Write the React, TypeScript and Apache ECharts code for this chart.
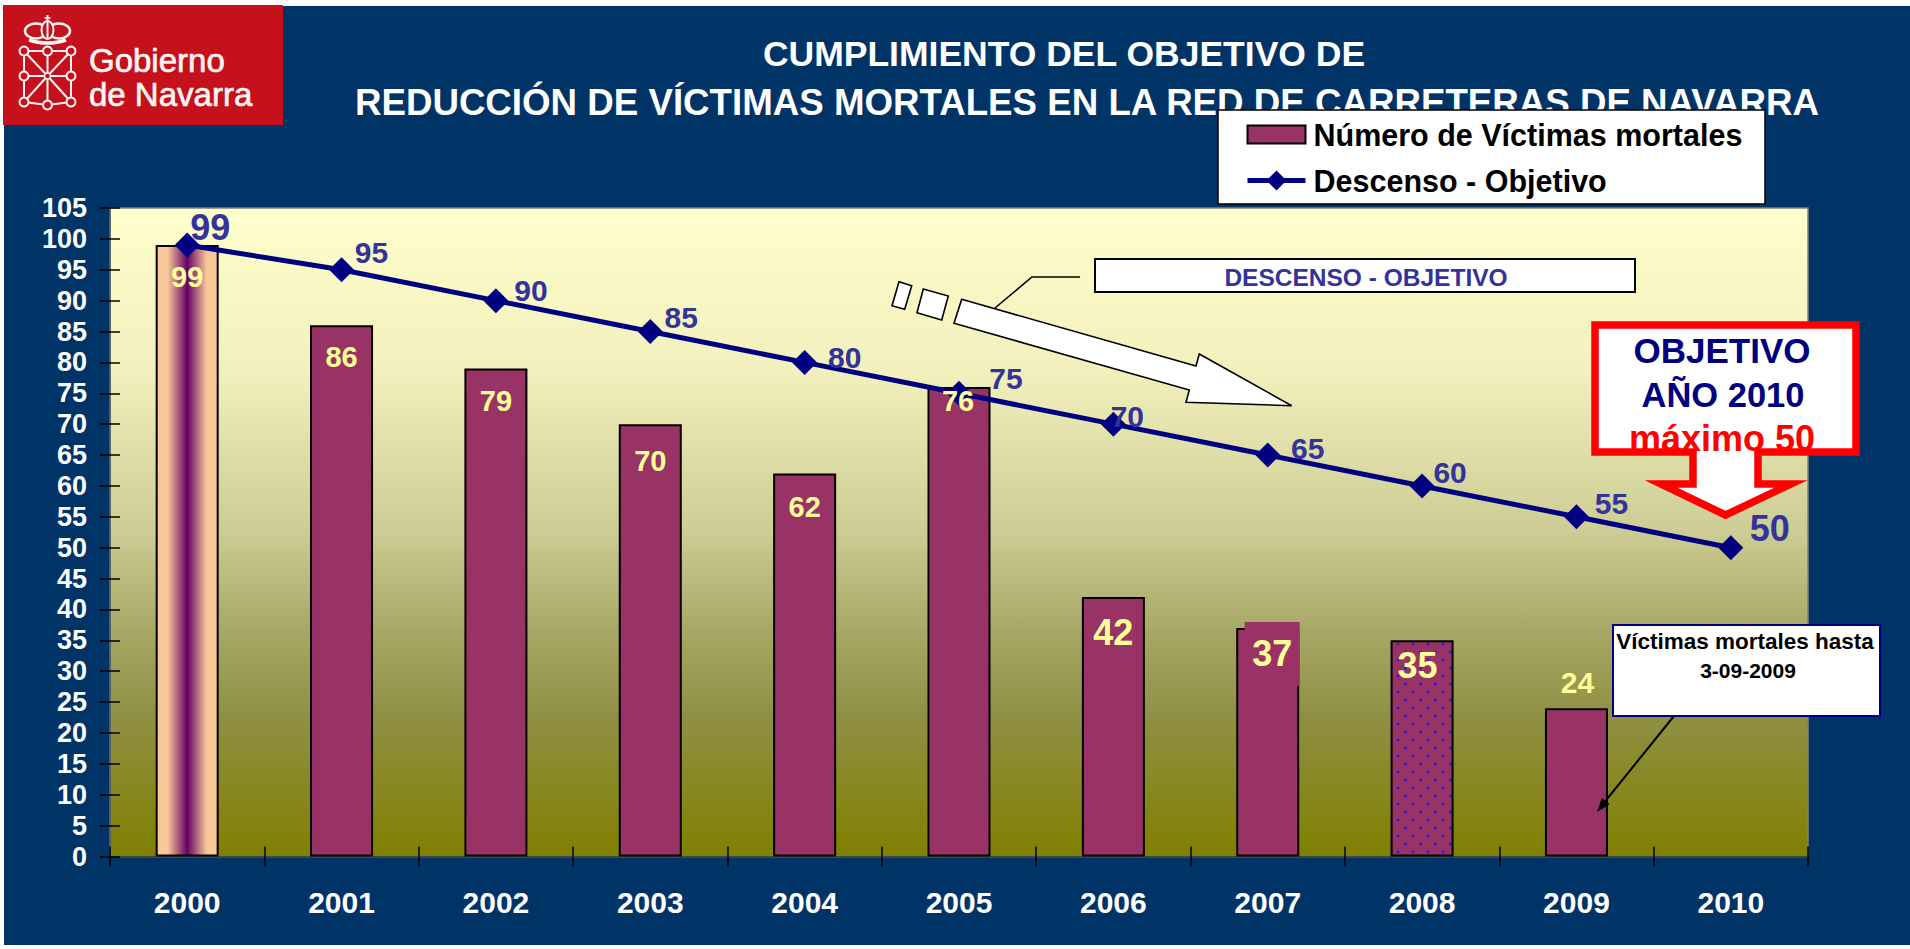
import React, { useEffect, useRef } from "react";
import * as echarts from "echarts";

const years = ["2000","2001","2002","2003","2004","2005","2006","2007","2008","2009","2010"];
const victims = [99,86,79,70,62,76,42,37,35,24,null];
const target = [99,95,90,85,80,75,70,65,60,55,50];
const yMin = 0, yMax = 105, yStep = 5;
const barName = "Número de Víctimas mortales";
const lineName = "Descenso - Objetivo";
const titleLines = ["CUMPLIMIENTO DEL OBJETIVO DE","REDUCCIÓN DE VÍCTIMAS MORTALES EN LA RED DE CARRETERAS DE NAVARRA"];

const barLabelLook = [
  {s:29,dx:0,dy:32},{s:29,dx:0,dy:32},{s:29,dx:0,dy:32},{s:29,dx:0,dy:37},{s:29,dx:0,dy:33},
  {s:29,dx:-1,dy:14},{s:36,dx:0,dy:35},{s:36,dx:4.5,dy:26},{s:36,dx:-4.5,dy:25},{s:30,dx:1,dy:-26},null,
];
const lineLabelLook = [
  {s:36,dx:23,dy:-18},{s:30,dx:30,dy:-17},{s:30,dx:35,dy:-10},{s:30,dx:31,dy:-14},{s:30,dx:40,dy:-5},
  {s:30,dx:47,dy:-15},{s:30,dx:14,dy:-8},{s:30,dx:40,dy:-7},{s:30,dx:28,dy:-13},{s:30,dx:35,dy:-13},{s:36,dx:39,dy:-19},
];

const FONT = '"Liberation Sans", Arial, sans-serif';
const NAVY = "#003366", MAROON = "#993366", DEEP = "#000080", BLUE = "#333399", YEL = "#FFFF99";

function dotTile() {
  const c = document.createElement("canvas");
  c.width = 15; c.height = 16;
  const g = c.getContext("2d")!;
  g.fillStyle = MAROON; g.fillRect(0,0,15,16);
  g.fillStyle = "#2020E8";
  g.beginPath(); g.arc(3,4,1.5,0,7); g.fill();
  g.beginPath(); g.arc(10.5,12,1.5,0,7); g.fill();
  return c;
}

function logo() {
  const W = "#FFF4F4", R = "#C4111B";
  const nodes = [[24,51],[47.5,51],[71,51],[24,76],[71,76],[24,102],[47.5,105],[71,102]];
  const link = (a:number[],b:number[]) => ({type:"line",shape:{x1:a[0],y1:a[1],x2:b[0],y2:b[1]},style:{stroke:W,lineWidth:2}});
  const c = [47.5,76];
  return [
    {type:"rect",shape:{x:3,y:5,width:280,height:120},style:{fill:R}},
    ...nodes.map(n=>link(n,c)),
    link(nodes[0],nodes[2]),link(nodes[5],nodes[6]),link(nodes[6],nodes[7]),
    link(nodes[0],nodes[5]),link(nodes[2],nodes[7]),
    ...nodes.map(n=>({type:"circle",shape:{cx:n[0],cy:n[1],r:4.5},style:{fill:R,stroke:W,lineWidth:2}})),
    {type:"circle",shape:{cx:47.5,cy:76,r:3},style:{fill:R,stroke:W,lineWidth:1.5}},
    {type:"ellipse",shape:{cx:36,cy:31,rx:11,ry:7.5},style:{fill:R,stroke:W,lineWidth:2.5}},
    {type:"ellipse",shape:{cx:59,cy:31,rx:11,ry:7.5},style:{fill:R,stroke:W,lineWidth:2.5}},
    {type:"ellipse",shape:{cx:47.5,cy:30,rx:6,ry:9},style:{fill:R,stroke:W,lineWidth:2}},
    {type:"line",shape:{x1:47.5,y1:15,x2:47.5,y2:38},style:{stroke:W,lineWidth:2}},
    {type:"line",shape:{x1:44.5,y1:18,x2:50.5,y2:18},style:{stroke:W,lineWidth:1.5}},
    {type:"bezierCurve",shape:{x1:29,y1:40,cpx1:40,cpy1:44,cpx2:55,cpy2:44,x2:66,y2:40},style:{stroke:W,lineWidth:3.5,fill:"none"}},
    {type:"text",x:89,y:60.5,style:{text:"Gobierno",fill:W,stroke:W,lineWidth:0.7,font:`33px ${FONT}`,verticalAlign:"middle"}},
    {type:"text",x:89,y:94,style:{text:"de Navarra",fill:W,stroke:W,lineWidth:0.7,font:`33px ${FONT}`,verticalAlign:"middle"}},
  ];
}

function notes() {
  const ctext = (text:string,x:number,y:number,size:number,fill:string) => ({
    type:"text",x,y,style:{text,fill,font:`bold ${size}px ${FONT}`,align:"center",verticalAlign:"middle"},
  });
  const wk = {fill:"#FFFFFF",stroke:"#000000",lineWidth:1.6};
  return [
    {type:"polyline",shape:{points:[[995,308],[1032,277],[1080,277]]},style:{stroke:"#000",lineWidth:1.6,fill:"none"}},
    {type:"rect",shape:{x:1095,y:259,width:540,height:33},style:{...wk,lineWidth:2}},
    ctext("DESCENSO - OBJETIVO",1366,277,24.5,BLUE),
    {type:"polygon",shape:{points:[[899,281.7],[911.7,285.7],[904.7,309.3],[892,305.7]]},style:wk},
    {type:"polygon",shape:{points:[[923.3,289],[948.3,296],[941.7,320],[917,312.7]]},style:wk},
    {type:"polygon",shape:{points:[[961.7,299.3],[1196,366],[1199.3,354],[1291.7,405.7],[1186,402.3],[1189.3,390],[954,323.3]]},style:wk},
    {type:"polygon",shape:{points:[[1595,325],[1856,325],[1856,452],[1758,452],[1758,484],[1791,484],[1725.5,515],[1661,484],[1693,484],[1693,452],[1595,452]]},
      style:{fill:"#FFFFFF",stroke:"#FF0000",lineWidth:7.5,miterLimit:12,lineJoin:"miter"}},
    ctext("OBJETIVO",1722,350,35,DEEP),
    ctext("AÑO 2010",1723,395,34.5,DEEP),
    ctext("máximo 50",1722,438,36,"#FF0000"),
    {type:"rect",shape:{x:1613,y:625,width:267,height:91},style:{fill:"#FFF",stroke:DEEP,lineWidth:2}},
    ctext("Víctimas mortales hasta",1745,641,22.5,"#000"),
    ctext("3-09-2009",1748,670,21,"#000"),
    {type:"line",shape:{x1:1674,y1:716,x2:1603,y2:804},style:{stroke:"#000",lineWidth:2}},
    {type:"polygon",shape:{points:[[1597,812],[1609.7,804.2],[1601.9,797.9]]},style:{fill:"#000"}},
  ];
}

export default function App() {
  const ref = useRef<HTMLDivElement>(null);
  useEffect(() => {
    document.body.style.margin = "0";
    document.body.style.background = "#fff";
    const chart = echarts.init(ref.current!, null, { renderer: "svg" });
    const tile = dotTile();
    const axisTickStyle = { color:"#000", width:1.5 };
    const yBase = { type:"value", min:yMin, max:yMax, interval:yStep, position:"left", splitLine:{show:false} };
    const xBase = { type:"category", data:years, position:"bottom", boundaryGap:true };
    const top = (arr:any[], z:number) => arr.map(e=>({...e,z}));
    chart.setOption({
      animation:false,
      backgroundColor:"transparent",
      textStyle:{fontFamily:FONT},
      title:[
        {text:titleLines[0],left:1059,top:31,textAlign:"center",z:1,textStyle:{color:"#fff",fontWeight:"bold",fontSize:35.5,fontFamily:FONT}},
        {text:titleLines[1],left:1082,top:79,textAlign:"center",z:1,textStyle:{color:"#fff",fontWeight:"bold",fontSize:36.7,fontFamily:FONT}},
      ],
      legend:{
        z:10,left:1218,top:110,orient:"vertical",align:"left",selectedMode:false,
        padding:[9,10,10,27],itemWidth:58,itemHeight:25,itemGap:15,
        textStyle:{color:"#000",fontWeight:"bold",fontSize:30.5,fontFamily:FONT,padding:[0,0,0,3]},
        lineStyle:{width:5},
        data:[{name:barName,icon:"path://M0 0H58V18H0Z"},{name:lineName}],
      },
      grid:{left:110,top:208,width:1698,height:648.5,show:true,borderColor:"#808080",borderWidth:1.5,
        backgroundColor:new echarts.graphic.LinearGradient(0,0,0,1,[
          {offset:0,color:"#FFFFCC"},{offset:0.25,color:"#F2F0BC"},{offset:0.5,color:"#CCCC94"},
          {offset:0.65,color:"#A8A866"},{offset:0.78,color:"#909045"},{offset:1,color:"#808000"}])},
      xAxis:[
        {...xBase,axisLine:{lineStyle:{color:"#444",width:2}},axisTick:{show:true,length:10,lineStyle:axisTickStyle},
          axisLabel:{color:"#fff",fontWeight:"bold",fontSize:30,margin:31,fontFamily:FONT}},
        {...xBase,axisLine:{show:false},axisTick:{show:true,inside:true,length:10,lineStyle:axisTickStyle},axisLabel:{show:false}},
      ],
      yAxis:[
        {...yBase,axisLine:{show:true,lineStyle:{color:"#555",width:1.5}},axisTick:{show:true,length:10,lineStyle:axisTickStyle},
          axisLabel:{color:"#fff",fontWeight:"bold",fontSize:27,margin:23,fontFamily:FONT}},
        {...yBase,axisLine:{show:false},axisTick:{show:true,inside:true,length:10,lineStyle:axisTickStyle},axisLabel:{show:false}},
      ],
      series:[
        {
          name:barName,type:"bar",barWidth:63,barGap:"-100%",z:2,
          itemStyle:{color:MAROON,borderColor:"#000",borderWidth:2},
          data:victims.map((v,i)=>{
            const item:any = {value:v};
            if (i===0) item.itemStyle={color:new echarts.graphic.LinearGradient(0,0,1,0,[
              {offset:0,color:"#F8C898"},{offset:0.18,color:"#F8C898"},{offset:0.5,color:"#660066"},{offset:0.82,color:"#F8C898"},{offset:1,color:"#F8C898"}])};
            if (i===8) item.itemStyle={color:{image:tile,repeat:"repeat"}};
            return item;
          }),
        },
        {
          name:lineName,type:"line",z:3,symbol:"diamond",symbolSize:25,
          lineStyle:{color:DEEP,width:5},itemStyle:{color:DEEP},
          data:target.map((v,i)=>{
            const k = lineLabelLook[i];
            return {value:v,label:{show:true,position:"inside",align:"center",verticalAlign:"middle",offset:[k.dx,k.dy],
              color:BLUE,fontWeight:"bold",fontSize:k.s,fontFamily:FONT}};
          }),
        },
        {
          name:"etiquetas",type:"bar",barWidth:63,barGap:"-100%",z:4,
          itemStyle:{color:"transparent",borderWidth:0},
          data:victims.map((v,i)=>{
            const k = barLabelLook[i];
            if (v==null || !k) return {value:v};
            const item:any = {value:v,label:{show:true,position:["50%",k.dy],align:"center",verticalAlign:"middle",offset:[k.dx,0],
              color:YEL,fontWeight:"bold",fontSize:k.s,fontFamily:FONT}};
            if (i===7) {item.label.backgroundColor=MAROON;item.label.padding=[14,7.5,14,7.5];item.label.lineHeight=36;}
            return item;
          }),
        },
      ],
      graphic:{elements:[
        {type:"rect",z:-10,shape:{x:4,y:6,width:1906,height:939},style:{fill:NAVY}},
        {type:"rect",z:9,shape:{x:1218,y:110,width:547,height:94},style:{fill:"#fff",stroke:"#000",lineWidth:1.5}},
        ...top(logo(),5),
        ...top(notes(),6),
      ]},
    });
    return () => chart.dispose();
  }, []);
  return <div ref={ref} style={{position:"absolute",left:0,top:0,width:1910,height:949}} />;
}
